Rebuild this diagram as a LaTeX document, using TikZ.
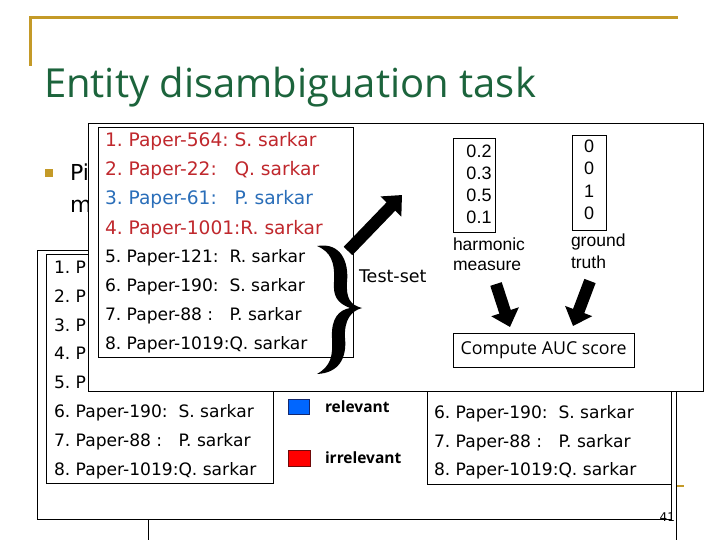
\documentclass[tikz,border=0pt]{standalone}
\usepackage{fontspec}
\setmainfont{DejaVu Sans}
\newfontfamily\arialf{Liberation Sans}
\newfontfamily\comicf{Open Sans}
\usetikzlibrary{arrows.meta}
\definecolor{gold}{RGB}{196,154,40}
\definecolor{titlegreen}{RGB}{28,100,60}
\definecolor{itemred}{RGB}{192,40,45}
\definecolor{itemblue}{RGB}{42,110,185}
\definecolor{legblue}{RGB}{0,102,255}
\definecolor{legblueb}{RGB}{20,40,110}
\definecolor{legred}{RGB}{255,0,0}
\definecolor{legredb}{RGB}{110,10,10}
\tikzset{
  frame/.style={draw=black, line width=0.8pt},
  bigitem/.style={anchor=base west, font=\fontsize{18.6}{20}\selectfont},
  smallitem/.style={anchor=base west, font=\fontsize{17.1}{18}\selectfont},
  numtxt/.style={anchor=base, font=\arialf\fontsize{18}{20}\selectfont},
  labtxt/.style={anchor=base west, font=\arialf\fontsize{17.5}{20}\selectfont},
  legtxt/.style={anchor=base west, font=\comicf\bfseries\fontsize{15.5}{17}\selectfont},
  blockarrow/.style={line width=12pt, -{Triangle[length=16pt,width=28pt]}},
}
\begin{document}
\begin{tikzpicture}[x=1pt,y=-1pt, every node/.style={inner sep=0pt, outer sep=0pt}]
\useasboundingbox (0,0) rectangle (720,540);
% slide decoration
\draw[gold, line width=3pt] (30,66) -- (30,18) -- (678,18);
\node[anchor=base west, text=titlegreen, font=\comicf\fontsize{40}{44}\selectfont] (title) at (44,98) {Entity disambiguation task};
% bullet (mostly hidden)
\fill[gold] (45,169) rectangle (53,177);
\node[anchor=base west, font=\fontsize{22}{24}\selectfont] (bul1) at (70,181) {Pi};
\node[anchor=base west, font=\fontsize{22}{24}\selectfont] (bul2) at (70,213) {m};
% back layer
\draw[frame] (37,250) rectangle (671,519);
\draw[frame] (46,254) rectangle (273,483);
\draw[frame] (427,380) rectangle (671,484);
\draw[frame] (148,519) -- (148,540);
\draw[frame] (676,391) -- (676,540);
\draw[gold, line width=2.5pt] (677,486) -- (684,486);
\node[anchor=base east, font=\fontsize{12}{14}\selectfont] (pg) at (675,521) {41};
\node[smallitem] (b1) at (54,273) {1.~P};
\node[smallitem] (b2) at (54,302) {2.~P};
\node[smallitem] (b3) at (54,331) {3.~P};
\node[smallitem] (b4) at (54,359) {4.~P};
\node[smallitem] (b5) at (54,388) {5.~P};
\node[smallitem] (b6) at (54,417) {6.~Paper-190:~~S.~sarkar};
\node[smallitem] (b7) at (54,446) {7.~Paper-88~:~~~P.~sarkar};
\node[smallitem] (b8) at (54,475) {8.~Paper-1019:Q.~sarkar};
\node[smallitem] (r6) at (434,418) {6.~Paper-190:~~S.~sarkar};
\node[smallitem] (r7) at (434,447) {7.~Paper-88~:~~~P.~sarkar};
\node[smallitem] (r8) at (434,475) {8.~Paper-1019:Q.~sarkar};
% legend
\draw[fill=legblue, draw=legblueb, line width=0.8pt] (288,399) rectangle (309,414);
\draw[fill=legred, draw=legredb, line width=0.8pt] (288,450) rectangle (310,466);
\node[legtxt] (rel) at (325,412) {relevant};
\node[legtxt] (irr) at (325,463) {irrelevant};
% overlay
\draw[frame, fill=white] (88,123) rectangle (703,391);
\draw[frame] (98,127) rectangle (353,357);
\node[bigitem, text=itemred] (f1) at (105,147) {1.~Paper-564:~S.~sarkar};
\node[bigitem, text=itemred] (f2) at (105,176) {2.~Paper-22:~~~Q.~sarkar};
\node[bigitem, text=itemblue] (f3) at (105,205) {3.~Paper-61:~~~P.~sarkar};
\node[bigitem, text=itemred] (f4) at (105,234) {4.~Paper-1001:R.~sarkar};
\node[smallitem] (f5) at (105,262) {5.~Paper-121:~~R.~sarkar};
\node[smallitem] (f6) at (105,291) {6.~Paper-190:~~S.~sarkar};
\node[smallitem] (f7) at (105,320) {7.~Paper-88~:~~~P.~sarkar};
\node[smallitem] (f8) at (105,349) {8.~Paper-1019:Q.~sarkar};
% brace
\fill (317,246) .. controls (341,242) and (349,262) .. (347,282)
  .. controls (346,298) and (350,305) .. (362,308)
  .. controls (351,311) and (344,320) .. (345,338)
  .. controls (347,358) and (339,373) .. (317,374)
  .. controls (331,366) and (333,356) .. (332,338)
  .. controls (331,318) and (339,310) .. (350,308)
  .. controls (337,303) and (333,296) .. (334,282)
  .. controls (335,262) and (331,252) .. (317,246) -- cycle;
\node[anchor=base west, font=\fontsize{17.5}{20}\selectfont] (test) at (359,282) {Test-set};
% arrow to scores
\coordinate (a1s) at (348,251);
\coordinate (a1e) at (402,195);
\draw[blockarrow] (a1s) -- (a1e);
% score columns
\draw[frame] (453,138) rectangle (495,232);
\node[numtxt] (h1) at (479,158) {0.2};
\node[numtxt] (h2) at (479,180) {0.3};
\node[numtxt] (h3) at (479,202) {0.5};
\node[numtxt] (h4) at (479,224) {0.1};
\draw[frame] (572,135) rectangle (606,230);
\node[numtxt] (g1) at (589,153) {0};
\node[numtxt] (g2) at (589,175) {0};
\node[numtxt] (g3) at (589,198) {1};
\node[numtxt] (g4) at (589,220) {0};
\node[labtxt] (hm1) at (453,250) {harmonic};
\node[labtxt] (hm2) at (453,270) {measure};
\node[labtxt] (gt1) at (571,247) {ground};
\node[labtxt] (gt2) at (571,268) {truth};
% AUC
\node[frame, minimum width=181pt, minimum height=34pt, font=\comicf\fontsize{17.8}{20}\selectfont] (auc) at (543.5,350) {Compute AUC score};
\coordinate (a2s) at (496,284);
\coordinate (a2e) at (510,327);
\coordinate (a3s) at (590,281);
\coordinate (a3e) at (573,326);
\draw[blockarrow] (a2s) -- (a2e);
\draw[blockarrow] (a3s) -- (a3e);
\end{tikzpicture}
\end{document}
